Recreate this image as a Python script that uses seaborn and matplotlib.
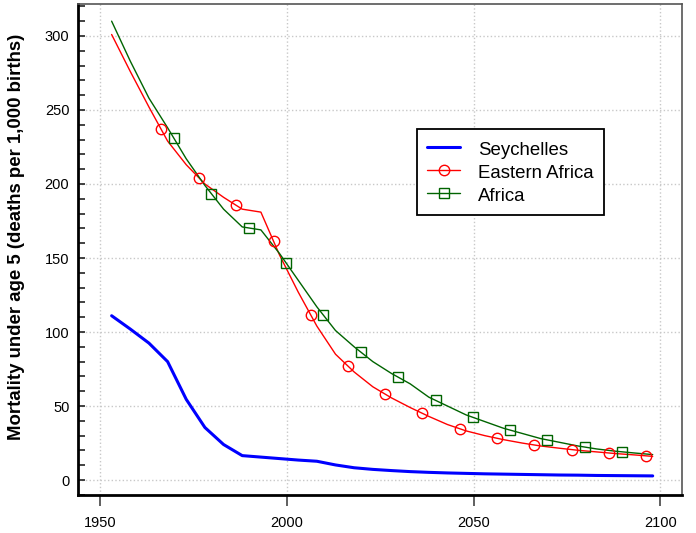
import numpy as np
import pandas as pd
import matplotlib
matplotlib.use('Agg')
import matplotlib.pyplot as plt
from matplotlib.lines import Line2D
from matplotlib.ticker import MultipleLocator
import seaborn as sns

sns.set_style('white')
plt.rcParams['font.family'] = ['Liberation Sans', 'DejaVu Sans']
plt.rcParams['text.color'] = 'black'
plt.rcParams['axes.labelcolor'] = 'black'

# 5-year period midpoints
years = np.arange(1953, 2099, 5)

seychelles = [111, 102, 92.5, 80, 54.5, 35.5, 24, 16.5, 15.5, 14.5,
              13.5, 12.7, 10.2, 8.3, 7.2, 6.4, 5.7, 5.2, 4.8, 4.5,
              4.2, 4.0, 3.8, 3.6, 3.4, 3.3, 3.1, 3.0, 2.9, 2.8]
eastern_africa = [301, 276, 252, 229, 213, 200, 191, 183, 181, 152,
                  127, 104, 85, 73, 63, 55.5, 49, 43, 37.5, 33.2,
                  30, 27.3, 25, 23, 21.5, 20.1, 19, 17.9, 17, 16]
africa = [310, 283, 258, 238, 217, 199, 183, 171, 169, 153,
          135, 117, 101, 90, 80, 72, 65, 56, 50, 44,
          39.5, 35, 31.5, 28, 25.5, 23, 21, 19.5, 18.3, 17.2]

# years where the symbols sit on the lines
circle_years = [1966.3, 1976.4, 1986.3, 1996.4, 2006.4, 2016.3, 2026.3,
                2036.2, 2046.4, 2056.4, 2066.3, 2076.4, 2086.4, 2096.3]
square_years = [1969.7, 1979.7, 1989.7, 1999.8, 2009.7, 2019.8, 2029.8,
                2039.8, 2049.8, 2059.8, 2069.8, 2079.8, 2089.8]

df = pd.DataFrame({'year': years, 'Seychelles': seychelles,
                   'Eastern Africa': eastern_africa, 'Africa': africa})

fig = plt.figure(figsize=(6.96, 5.33), dpi=100)
ax = fig.add_axes([0.1116, 0.0713, 0.868, 0.9212])

ax.grid(True, color='#c8c8c8', linestyle=':', linewidth=1)
ax.set_axisbelow(True)

sns.lineplot(data=df, x='year', y='Seychelles', ax=ax, color='#0000ff', lw=2.2)
sns.lineplot(data=df, x='year', y='Eastern Africa', ax=ax, color='#ff0000', lw=1)
sns.lineplot(data=df, x='year', y='Africa', ax=ax, color='#006400', lw=1)

ax.plot(circle_years, np.interp(circle_years, years, eastern_africa), 'o',
        mfc='none', mec='#ff0000', ms=7.5, mew=1)
ax.plot(square_years, np.interp(square_years, years, africa), 's',
        mfc='none', mec='#006400', ms=7, mew=1)

ax.set_xlim(1943.9, 2105.8)
ax.set_ylim(-10.1, 321.6)
ax.set_xticks([1950, 2000, 2050, 2100])
ax.yaxis.set_major_locator(MultipleLocator(50))
ax.yaxis.set_minor_locator(MultipleLocator(10))
ax.tick_params(axis='x', direction='out', length=8, width=1.2, color='#444444',
               labelsize=10.5, labelcolor='black', pad=7, bottom=True)
ax.tick_params(axis='y', which='both', direction='in', length=5, width=1.2,
               color='#222222', labelsize=10.5, labelcolor='black', pad=6,
               left=True)

ax.set_xlabel('')
ax.set_ylabel('Mortality under age 5 (deaths per 1,000 births)',
              fontsize=13.4, fontweight='bold')
ax.yaxis.set_label_coords(-0.087, 0.5265)

for side in ['left', 'bottom']:
    ax.spines[side].set_color('black')
    ax.spines[side].set_linewidth(2)
for side in ['top', 'right']:
    ax.spines[side].set_color('#555555')
    ax.spines[side].set_linewidth(1.2)

handles = [Line2D([], [], color='#0000ff', lw=2.2),
           Line2D([], [], color='#ff0000', lw=1, marker='o', mfc='none',
                  mec='#ff0000', ms=7.5),
           Line2D([], [], color='#006400', lw=1, marker='s', mfc='none',
                  mec='#006400', ms=7)]
leg = ax.legend(handles, ['Seychelles', 'Eastern Africa', 'Africa'],
                loc='upper left', bbox_to_anchor=(0.561, 0.745),
                borderaxespad=0, fontsize=13.4, fancybox=False, framealpha=1,
                edgecolor='black', handlelength=1.8, handletextpad=0.95,
                handleheight=1.2, labelspacing=0.17, borderpad=0.55)
leg.get_frame().set_linewidth(1.3)

fig.savefig('out.png', dpi=100)
